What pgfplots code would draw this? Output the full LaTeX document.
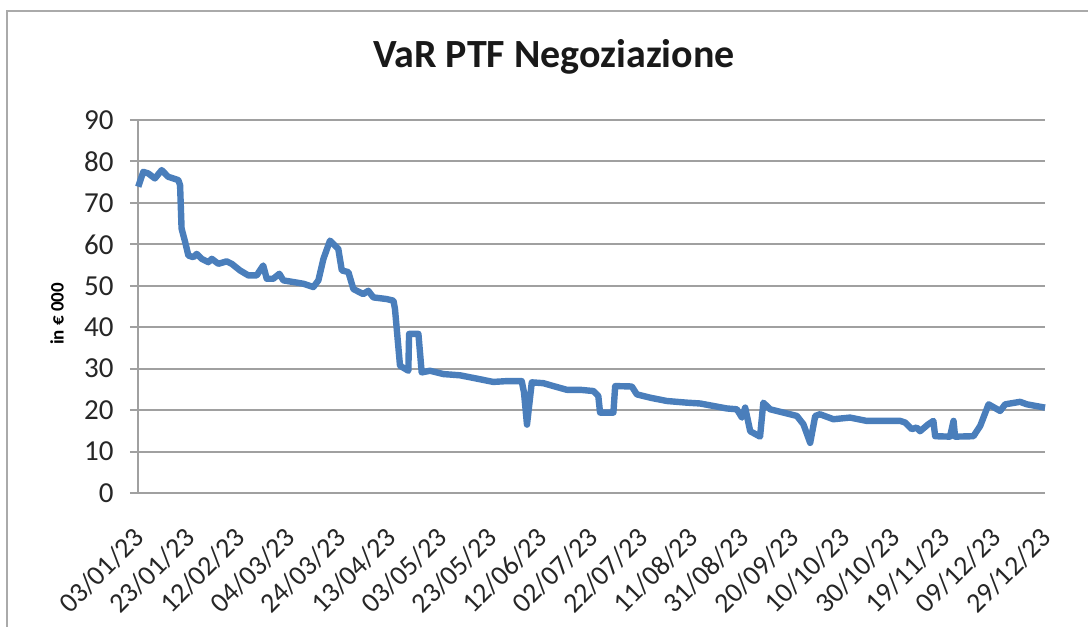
\documentclass[border=0pt]{standalone}
\usepackage{pgfplots}
\pgfplotsset{compat=1.18}
\usepackage{fontspec}
\setmainfont{Carlito}
\definecolor{linecol}{RGB}{74,126,187}
\definecolor{gridcol}{RGB}{160,160,160}
\definecolor{framecol}{RGB}{170,170,170}
\begin{document}
\begin{tikzpicture}
\useasboundingbox (-69pt,-67pt) rectangle (475pt,246.5pt);
\draw[framecol, line width=1pt] (-65.5pt,-67pt) -- (-65.5pt,241pt) -- (475pt,241pt);
\begin{axis}[
  at={(0,0)}, anchor=south west,
  scale only axis, width=453.5pt, height=186.5pt,
  xmin=0, xmax=360, ymin=0, ymax=90,
  axis x line*=bottom, axis y line*=left,
  axis line style={-, draw=gridcol, line width=1pt},
  ytick={0,10,...,90},
  xtick={0,20,...,360},
  xticklabels={03/01/23,23/01/23,12/02/23,04/03/23,24/03/23,13/04/23,03/05/23,23/05/23,12/06/23,02/07/23,22/07/23,11/08/23,31/08/23,20/09/23,10/10/23,30/10/23,19/11/23,09/12/23,29/12/23},
  ymajorgrids, major grid style={draw=gridcol, line width=1pt},
  tick align=outside, major tick length=4pt,
  ytick style={draw=gridcol, line width=1pt},
  xtick style={draw=none},
  /pgf/number format/assume math mode=true,
  yticklabel style={font=\fontsize{14.5pt}{14.5pt}\selectfont, text=black!85, anchor=east, inner sep=0pt},
  yticklabel shift=8pt,
  xticklabel style={font=\fontsize{14pt}{14pt}\selectfont, text=black!85, xshift=-3pt, rotate=45, anchor=north east, inner sep=0pt},
  xticklabel shift=12pt,
  clip=false,
]
\addplot[color=linecol, line width=3.2pt, line join=round] coordinates {
(0.1,73.9) (2.1,77.5) (4.1,77.1) (6.7,75.9) (9.4,77.9) (12.0,76.3) (16.0,75.5) (16.7,74.3)
(17.3,63.8) (18.7,60.6) (20.0,57.3) (22.0,56.9) (23.3,57.7) (25.3,56.5) (27.9,55.7) (29.3,56.5)
(31.9,55.3) (35.2,55.9) (37.2,55.3) (40.5,53.7) (43.8,52.5) (47.1,52.5) (49.7,54.9) (51.1,51.7)
(53.7,51.7) (56.1,52.9) (57.7,51.3) (61.7,50.9) (65.6,50.5) (69.6,49.7) (71.6,51.3) (73.6,56.5)
(76.2,60.9) (78.2,59.7) (79.5,58.9) (80.9,53.7) (83.5,53.3) (85.5,49.2) (89.4,48.0) (91.4,48.8)
(93.4,47.2) (98.7,46.8) (101.4,46.4) (102.0,44.4) (104.0,30.7) (107.3,29.5) (107.6,38.4)
(111.3,38.4) (112.6,29.1) (115.9,29.5) (121.2,28.7) (127.8,28.4) (134.5,27.6) (141.0,26.8)
(146.4,27.0) (152.3,27.0) (153.2,24.3) (154.4,16.5) (156.3,26.7) (160.9,26.5) (164.9,25.8)
(170.2,24.9) (175.5,24.9) (180.8,24.6) (182.7,23.4) (183.4,19.4) (188.7,19.4) (189.4,25.8)
(196.0,25.7) (198.0,23.8) (203.3,23.0) (209.9,22.2) (217.8,21.8) (223.1,21.6) (228.4,21.0)
(233.7,20.4) (237.7,20.2) (239.7,18.2) (241.0,20.6) (243.0,14.9) (246.9,13.6) (248.2,21.8)
(250.9,20.2) (256.2,19.4) (261.5,18.6) (264.1,16.6) (266.8,12.1) (268.8,18.6) (270.7,19.0)
(276.0,17.8) (282.6,18.2) (289.2,17.4) (295.9,17.4) (302.5,17.4) (304.5,17.0) (307.1,15.4)
(309.1,15.8) (310.4,14.9) (313.7,16.6) (315.7,17.4) (316.4,13.7) (322.3,13.6) (323.7,17.4)
(324.3,13.6) (331.6,13.7) (334.3,16.2) (337.6,21.4) (342.2,19.8) (344.2,21.4) (350.1,22.0)
(352.8,21.4) (360.0,20.6)
};
\end{axis}
\node[anchor=base, font=\bfseries\fontsize{20pt}{20pt}\selectfont, text=black!90] at (208pt,212.5pt) {VaR PTF Negoziazione};
\node[rotate=90, font=\bfseries\fontsize{9.5pt}{9.5pt}\selectfont] at (-40.5pt,89.5pt) {in € 000};
\end{tikzpicture}
\end{document}
